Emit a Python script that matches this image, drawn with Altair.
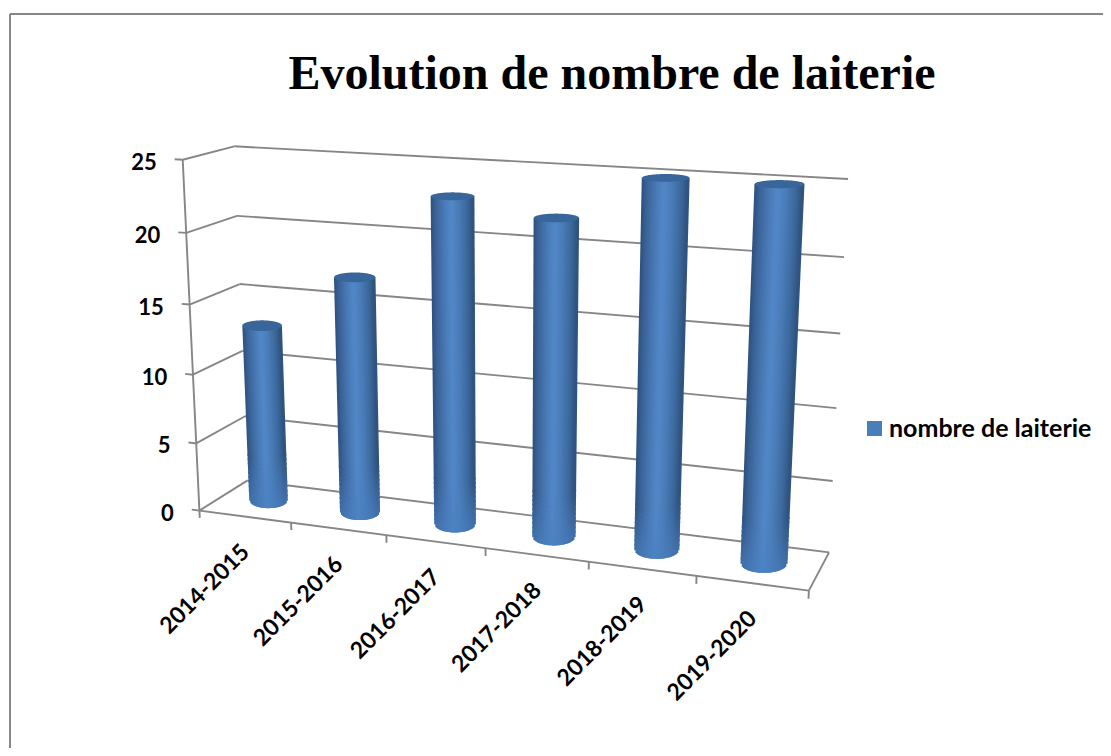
import altair as alt
import numpy as np
import pandas as pd

TITLE = "Evolution de nombre de laiterie"
SERIES = "nombre de laiterie"
CATEGORIES = ["2014-2015", "2015-2016", "2016-2017", "2017-2018", "2018-2019", "2019-2020"]
VALUES = [13, 17, 23, 22, 25, 25]
VALUE_TICKS = [0, 5, 10, 15, 20, 25]

# chart size: the view is laid out in page pixels
W, H = 1095, 740
X_DOM = [8, 8 + W]
Y_DOM = [8 + H, 8]

# perspective camera, calibrated on the visible corners of the 3-D box
# (category position, depth 0-1, value) -> page pixel
CAL = [
    ((0, 0, 0), (200, 510)), ((6, 0, 0), (809, 591)), ((0, 1, 0), (247, 481)),
    ((6, 1, 0), (829, 552)), ((0, 0, 25), (182, 160)), ((0, 1, 25), (235, 146)),
    ((6, 1, 25), (848, 179)),
]
A, b = [], []
for (X, Y, Z), (px, py) in CAL:
    A.append([X, Y, Z, 1, 0, 0, 0, 0, -px * X, -px * Y, -px * Z]); b.append(px)
    A.append([0, 0, 0, 0, X, Y, Z, 1, -py * X, -py * Y, -py * Z]); b.append(py)
P = np.append(np.linalg.lstsq(np.array(A, float), np.array(b, float), rcond=None)[0], 1).reshape(3, 4)


def proj(u, v, w):
    q = P @ np.array([u, v, w, 1.0])
    return float(q[0] / q[2]), float(q[1] / q[2])


GRID = "#868686"
FONT = "Lato"
R_U, R_V = 0.215, 0.24
N = 36
STRIP = 2.6
STOP_S = [-1, -0.8, -0.4, -0.05, 0.3, 0.7, 1]
STOP_RGB = np.array([[0x2f, 0x52, 0x80], [0x3a, 0x62, 0x97], [0x48, 0x79, 0xb4], [0x52, 0x88, 0xc8],
                     [0x4a, 0x7d, 0xb9], [0x3d, 0x6a, 0x9f], [0x30, 0x53, 0x7f]])
FOOT_RGB = np.array([0x4a, 0x80, 0xc0])
FOOT_T = np.linspace(0, 1, 11)


def shade(s, t=0.0):
    c = np.array([np.interp(s, STOP_S, STOP_RGB[:, k]) for k in range(3)])
    c = c + (FOOT_RGB - c) * 0.6 * t
    return "#%02x%02x%02x" % tuple(int(round(v)) for v in c)


xs = alt.Scale(domain=X_DOM, nice=False, zero=False)
ys = alt.Scale(domain=Y_DOM, nice=False, zero=False)


def segs(rows):
    return pd.DataFrame(rows, columns=["x", "y", "x2", "y2"])


def seg(a, b_):
    return (*proj(*a), *proj(*b_))


def rules(df, width, color=GRID):
    return alt.Chart(df).mark_rule(color=color, strokeWidth=width).encode(
        x=alt.X("x:Q", scale=xs, axis=None), y=alt.Y("y:Q", scale=ys, axis=None),
        x2="x2:Q", y2="y2:Q")


def ellipse(uc, w):
    """Untilted screen ellipse of a cylinder section: centre and half-axes."""
    cx, cy = proj(uc, 0.5, w)
    rx = (proj(uc + R_U, 0.5, w)[0] - proj(uc - R_U, 0.5, w)[0]) / 2
    ry = (proj(uc, 0.5 - R_V, w)[1] - proj(uc, 0.5 + R_V, w)[1]) / 2
    return cx, cy, rx, ry


# box lines
lines = []
for t in VALUE_TICKS:
    lines.append(seg((0, 0, t), (0, 1, t)))
    lines.append(seg((0, 1, t), (6, 1, t)))
    lines.append(seg((-0.085, 0, t), (0, 0, t)))
lines.append(seg((0, 0, 0), (0, 0, 25)))
lines.append(seg((0, 0, 0), (6, 0, 0)))
lines.append(seg((6, 0, 0), (6, 1, 0)))
for i in range(7):
    lines.append(seg((i, 0, 0), (i, 0, -0.55)))
box = rules(segs(lines), 1.9)

# frame: top and left edges run off the page
frame_rows = [(10, 14, X_DOM[1], 14), (10, 14, 10, Y_DOM[0])]
frame = rules(segs(frame_rows), 2)

# cylinders: every vertical slice runs from foot to top; the foot part lightens downwards.
# Slices are drawn band by band so that each band overlaps the one above it.
FOOT_PX = 45.0
main, bands = [], {k: [] for k in range(len(FOOT_T) - 1)}
caps = []
for i, val in enumerate(VALUES):
    uc = i + 0.5
    bx, by, brx, bry = ellipse(uc, 0)
    tx, ty, trx, tryy = ellipse(uc, val)
    for s in np.linspace(-1, 1, N):
        off = float(np.sqrt(max(1 - s * s, 0)))
        x0, y0 = bx + (brx - STRIP / 2) * s, by + bry * off
        x1, y1 = tx + (trx - STRIP / 2) * s, ty
        foot = FOOT_PX / (y0 - y1)
        fx, fy = x0 + (x1 - x0) * foot, y0 + (y1 - y0) * foot
        main.append(dict(x=fx, y=fy, x2=x1, y2=y1, c=shade(s), cyl=i))
        for k, (a, z) in enumerate(zip(FOOT_T[:-1], FOOT_T[1:])):
            a_back = a - 2.0 / FOOT_PX  # overlap the band above
            bands[k].append(dict(x=fx + (x0 - fx) * a_back, y=fy + (y0 - fy) * a_back,
                                 x2=fx + (x0 - fx) * z, y2=fy + (y0 - fy) * z,
                                 c=shade(s, z), cyl=i))
    for s in np.linspace(-1, 1, 61):
        off = float(np.sqrt(max(1 - s * s, 0)))
        caps.append(dict(x=tx + trx * s, y=ty + tryy * off, y2=ty - tryy * off, cyl=i))
body_rows = main + [r for k in sorted(bands) for r in bands[k]]
body_layer = alt.Chart(pd.DataFrame(body_rows)).mark_rule(strokeWidth=STRIP).encode(
    x=alt.X("x:Q", scale=xs, axis=None), y=alt.Y("y:Q", scale=ys, axis=None),
    x2="x2:Q", y2="y2:Q", color=alt.Color("c:N", scale=None))
cap_layer = alt.Chart(pd.DataFrame(caps)).mark_area(color="#38659a", orient="vertical", opacity=1).encode(
    x=alt.X("x:Q", scale=xs, axis=None), y=alt.Y("y:Q", scale=ys, axis=None),
    y2=alt.Y2("y2:Q"), detail="cyl:N")


def text_layer(df, **kw):
    return alt.Chart(df).mark_text(**kw).encode(
        x=alt.X("x:Q", scale=xs, axis=None), y=alt.Y("y:Q", scale=ys, axis=None), text="t:N")


# value labels
rows = []
for t in VALUE_TICKS:
    x0, y0 = proj(-0.085, 0, t)
    rows.append(dict(x=x0 - 18, y=y0 + 4, t=str(t)))
ylab = text_layer(pd.DataFrame(rows), font=FONT, fontWeight="bold", fontSize=22, align="right", baseline="middle", color="#000000")

# category labels
rows = []
for i, c in enumerate(CATEGORIES):
    x0, y0 = proj(i + 0.5, 0, 0)
    rows.append(dict(x=x0 + 1, y=y0 + 32, t=c))
xlab = text_layer(pd.DataFrame(rows), font=FONT, fontWeight="bold", fontSize=23, align="right", baseline="middle", angle=315, color="#000000")

title = text_layer(pd.DataFrame([dict(x=612, y=75, t=TITLE)]), font="Liberation Serif", fontWeight="bold",
                   fontSize=48, align="center", baseline="middle", color="#000000")
legend_text = text_layer(pd.DataFrame([dict(x=889, y=429, t=SERIES)]), font=FONT, fontWeight="bold",
                         fontSize=25, align="left", baseline="middle", color="#000000")
legend_sq = alt.Chart(pd.DataFrame([dict(x=874.5, y=428.5)])).mark_point(
    shape="square", filled=True, size=225, color="#4a7ebb", opacity=1).encode(
    x=alt.X("x:Q", scale=xs, axis=None), y=alt.Y("y:Q", scale=ys, axis=None))

chart = alt.layer(frame, box, body_layer, cap_layer, ylab, xlab, title, legend_sq, legend_text).properties(
    width=W, height=H, padding=0, autosize=alt.AutoSizeParams(type="none"),
    background="#ffffff").configure_view(stroke=None)

chart.save("out.html", embed_options={"renderer": "svg", "actions": False})
